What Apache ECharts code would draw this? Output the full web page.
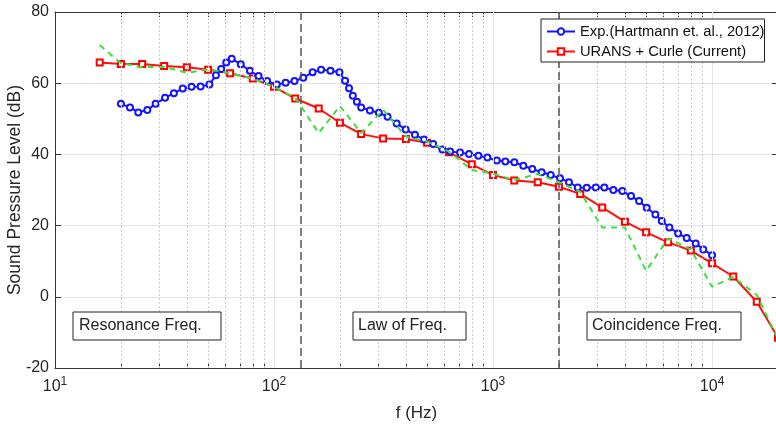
<!DOCTYPE html>
<html>
<head>
<meta charset="utf-8">
<title>Sound pressure level spectrum</title>
<script src="https://cdn.jsdelivr.net/npm/echarts@6/dist/echarts.min.js"></script>
<style>
  html, body { margin: 0; padding: 0; background: #fff; }
  #chart { width: 776px; height: 426px; }
</style>
</head>
<body>
<div id="chart"></div>
<script>
// experiment (Hartmann et al., 2012)
var expFreq = [20, 22, 24, 26.4, 28.8, 31.8, 34.9, 38.3, 42, 46.2,
  50.7, 54.3, 57.4, 60.5, 64.1, 70.5, 77.6, 85, 93, 103,
  113, 124, 136, 150, 164, 181, 199, 211, 220, 229,
  239, 250, 274, 301, 330, 363, 399, 440, 484, 533,
  587, 637, 707, 777, 857, 942, 1040, 1138, 1251, 1375,
  1511, 1667, 1833, 2022, 2222, 2436, 2678, 2944, 3223, 3543,
  3894, 4266, 4643, 5032, 5511, 5893, 6385, 6998, 7660, 8421,
  9120, 10000];
var expSpl = [54.2, 53.2, 51.8, 52.5, 54.2, 55.9, 57.2, 58.5, 59, 59.1,
  59.6, 62.2, 64, 65.8, 66.9, 65.3, 63.5, 62, 60.6, 59.6,
  60.1, 60.6, 61.5, 63.1, 63.8, 63.5, 63.1, 60.7, 58.6, 56.5,
  54.8, 53.2, 52.3, 51.7, 50.6, 48.7, 47, 45.5, 44.2, 42.9,
  41.4, 40.8, 40.5, 40.1, 39.6, 39.1, 38.3, 38, 37.8, 36.8,
  35.9, 35, 34.2, 33.3, 32.2, 30.7, 30.6, 30.7, 30.7, 30,
  29.7, 28.3, 26.9, 25, 23.1, 21.3, 19.5, 17.8, 16.5, 15,
  13.3, 11.7];

// 1/3 octave bands
var bandFreq = [16, 20, 25, 31.5, 40, 50, 63, 80, 100, 125, 160, 200, 250, 315, 400, 500,
  630, 800, 1000, 1250, 1600, 2000, 2500, 3150, 4000, 5000, 6300, 8000, 10000, 12500, 16000, 20000];
var uransSpl = [65.8, 65.4, 65.4, 64.8, 64.5, 63.8, 62.8, 61.3, 59.0, 55.7, 52.9, 48.9, 45.7, 44.5, 44.3, 43.3,
  40.6, 37.2, 34.2, 32.7, 32.2, 30.9, 28.9, 25.1, 21.1, 18.1, 15.3, 13.0, 9.4, 5.7, -1.4, -11.5];
var dashedSpl = [70.7, 65.6, 64.5, 64.6, 62.9, 63.9, 62.8, 61.3, 59.0, 55.9, 46.0, 53.6, 46.0, 52.5, 45.0, 43.6,
  40.8, 35.6, 34.6, 32.8, 34.5, 32.2, 29.5, 19.5, 19.5, 7.3, 16.4, 13.3, 2.8, 5.6, 0.5, -11.8];

var majorTicks = [10, 100, 1000, 10000];
var minorTicks = [20, 30, 40, 50, 60, 70, 80, 90, 200, 300, 400, 500, 600, 700, 800, 900,
  2000, 3000, 4000, 5000, 6000, 7000, 8000, 9000];
var regionBounds = [132, 2000];
var regionNames = ['Resonance Freq.', 'Law of Freq.', 'Coincidence Freq.'];

function zip(xs, ys) {
  return xs.map(function (x, i) { return [x, ys[i]]; });
}

var FONT = '"Liberation Sans", Arial, sans-serif';
var allTicks = majorTicks.concat(minorTicks).sort(function (a, b) { return a - b; });

var chart = echarts.init(document.getElementById('chart'));

var option = {
  animation: false,
  backgroundColor: '#fff',
  grid: { left: 55, right: -2, top: 12, bottom: 58, containLabel: false, outerBoundsMode: 'none' },
  legend: {
    data: ['Exp.(Hartmann et. al., 2012)', 'URANS + Curle (Current)'],
    orient: 'vertical',
    left: 541, top: 19,
    padding: [5, 0, 3, 5],
    itemGap: 5,
    itemWidth: 28, itemHeight: 8,
    backgroundColor: '#fff',
    borderColor: '#222', borderWidth: 1,
    borderRadius: 0,
    z: 20,
    textStyle: { fontFamily: FONT, fontSize: 14.7, color: '#111' }
  },
  xAxis: [{
    type: 'log', logBase: 10, min: 10, max: 20000,
    position: 'bottom',
    name: 'f (Hz)', nameLocation: 'middle', nameGap: 37, nameMoveOverlap: false,
    nameTextStyle: { fontFamily: FONT, fontSize: 17, color: '#262626' },
    axisLine: { onZero: false, lineStyle: { color: '#333', width: 1 } },
    axisTick: { inside: true, length: 5, customValues: allTicks, lineStyle: { color: '#333' } },
    splitLine: { show: false },
    axisLabel: {
      customValues: majorTicks,
      margin: 8,
      formatter: function (v) {
        var e = Math.round(Math.log10(v));
        return '{b|10}{s|' + e + '}';
      },
      rich: {
        b: { fontFamily: FONT, fontSize: 16, color: '#262626' },
        s: { fontFamily: FONT, fontSize: 12, color: '#262626', padding: [0, 0, 9, 0] }
      }
    }
  }, {
    type: 'log', logBase: 10, min: 10, max: 20000,
    position: 'top',
    axisLine: { onZero: false, lineStyle: { color: '#333', width: 1 } },
    axisTick: { inside: true, length: 5, customValues: allTicks, lineStyle: { color: '#333' } },
    axisLabel: { show: false },
    splitLine: { show: false }
  }],
  yAxis: [{
    type: 'value', min: -20, max: 80, interval: 20,
    position: 'left',
    name: 'Sound Pressure Level (dB)', nameLocation: 'middle', nameGap: 31, nameMoveOverlap: false,
    nameTextStyle: { fontFamily: FONT, fontSize: 17.5, color: '#262626' },
    axisLine: { show: true, onZero: false, lineStyle: { color: '#333', width: 1 } },
    axisTick: { show: true, inside: true, length: 6, lineStyle: { color: '#333' } },
    axisLabel: { fontFamily: FONT, fontSize: 16, color: '#262626', margin: 6 },
    splitLine: { show: true, lineStyle: { color: '#e3e3e3', width: 1 } }
  }, {
    type: 'value', min: -20, max: 80, interval: 20,
    position: 'right',
    axisLine: { show: true, onZero: false, lineStyle: { color: '#333', width: 1 } },
    axisTick: { show: true, inside: true, length: 6, lineStyle: { color: '#333' } },
    axisLabel: { show: false },
    splitLine: { show: false }
  }],
  series: [{
    // grid lines on the log axis
    name: 'grid', type: 'line', data: [], z: 1, silent: true,
    markLine: {
      silent: true, symbol: 'none', label: { show: false },
      data: minorTicks.map(function (v) {
        return { xAxis: v, lineStyle: { color: '#cccccc', width: 1, type: [2, 2] } };
      }).concat(majorTicks.slice(1).map(function (v) {
        return { xAxis: v, lineStyle: { color: '#e3e3e3', width: 1, type: 'solid' } };
      }))
    }
  }, {
    name: 'Exp.(Hartmann et. al., 2012)', type: 'line', z: 4,
    data: zip(expFreq, expSpl),
    symbol: 'emptyCircle', symbolSize: 6,
    color: '#1414ff',
    lineStyle: { width: 2, color: '#1414ff' },
    itemStyle: { color: '#1414ff', borderWidth: 1.6 }
  }, {
    name: 'URANS + Curle (Current)', type: 'line', z: 3,
    data: zip(bandFreq, uransSpl),
    symbol: 'emptyRect', symbolSize: 6,
    color: '#ff0000',
    lineStyle: { width: 2, color: '#ff1010' },
    itemStyle: { color: '#ff0000', borderWidth: 1.6 }
  }, {
    name: 'dashed', type: 'line', z: 5,
    data: zip(bandFreq, dashedSpl),
    symbol: 'none',
    lineStyle: { width: 2, color: '#3ddf3d', type: [6, 5] },
    markLine: {
      silent: true, symbol: 'none', label: { show: false },
      lineStyle: { color: '#555', width: 1.5, type: [8, 4] },
      data: regionBounds.map(function (v) { return { xAxis: v }; })
    }
  }],
  graphic: [
    { type: 'rect', shape: { x: 73, y: 312, width: 148, height: 28 }, style: { fill: '#fff', stroke: '#222', lineWidth: 1 }, z: 10 },
    { type: 'text', x: 79, y: 326, style: { text: regionNames[0], font: '16px ' + FONT, fill: '#222', verticalAlign: 'middle' }, z: 11 },
    { type: 'rect', shape: { x: 353, y: 312, width: 113, height: 28 }, style: { fill: '#fff', stroke: '#222', lineWidth: 1 }, z: 10 },
    { type: 'text', x: 358, y: 326, style: { text: regionNames[1], font: '16px ' + FONT, fill: '#222', verticalAlign: 'middle' }, z: 11 },
    { type: 'rect', shape: { x: 587, y: 312, width: 154, height: 28 }, style: { fill: '#fff', stroke: '#222', lineWidth: 1 }, z: 10 },
    { type: 'text', x: 592, y: 326, style: { text: regionNames[2], font: '16px ' + FONT, fill: '#222', verticalAlign: 'middle' }, z: 11 }
  ]
};

chart.setOption(option);
</script>
</body>
</html>
